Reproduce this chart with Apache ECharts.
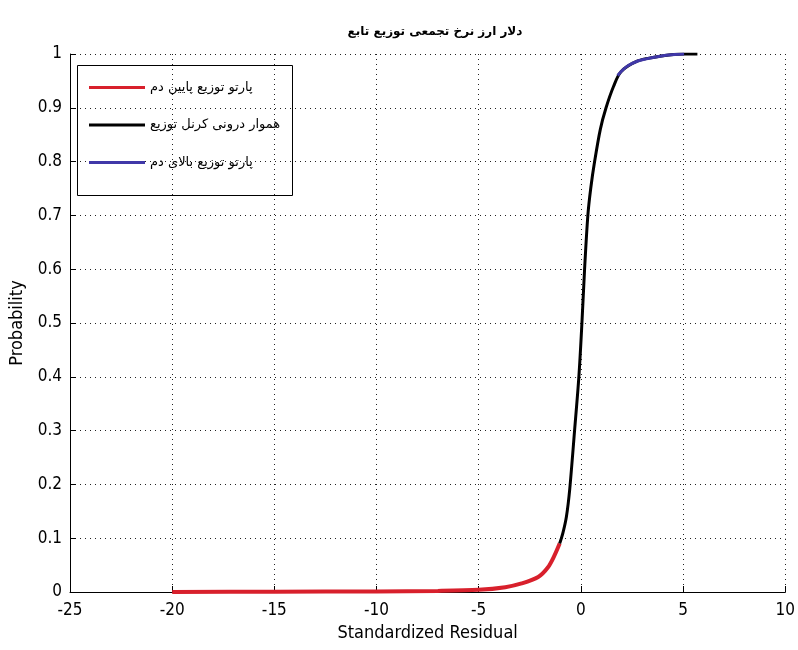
<!DOCTYPE html>
<html>
<head>
<meta charset="utf-8">
<script src="https://cdn.jsdelivr.net/npm/echarts@6/dist/echarts.min.js"></script>
<style>
  html, body { margin: 0; padding: 0; background: #fff; }
  #chart { width: 798px; height: 650px; }
</style>
</head>
<body>
<div id="chart"></div>
<script>
// values
var titleText = 'تابع توزیع تجمعی نرخ ارز دلار';
var seriesNames = ['دم پایین توزیع پارتو', 'توزیع کرنل درونی هموار', 'دم بالای توزیع پارتو'];

// lower tail (pareto)
var lowerX = [-20, -15, -10, -7, -5, -3.7, -2.9, -2.09, -1.61, -1.28, -1.04];
var lowerP = [0, 0.0005, 0.001, 0.002, 0.004, 0.009, 0.016, 0.028, 0.046, 0.069, 0.09];

// smoothed kernel (interior)
var kernelX = [-1.04, -0.88, -0.71, -0.55, -0.31, -0.1, 0.05, 0.18, 0.34, 0.48, 0.67, 0.95, 1.23, 1.6, 1.96, 2.78, 3.59, 4.3, 5.05, 5.7];
var kernelP = [0.09, 0.11, 0.14, 0.19, 0.30, 0.40, 0.50, 0.60, 0.70, 0.75, 0.80, 0.86, 0.90, 0.94, 0.967, 0.987, 0.994, 0.998, 1.0, 1.0];

// upper tail (pareto)
var upperX = [1.8, 1.96, 2.3, 2.78, 3.2, 3.59, 4.3, 5.05];
var upperP = [0.96, 0.967, 0.978, 0.987, 0.991, 0.994, 0.998, 1.0];

function pairs(xs, ys) {
  var out = [];
  for (var i = 0; i < xs.length; i++) out.push([xs[i], ys[i]]);
  return out;
}

// the original figure lays the words out left to right; an LRM after each word does that
function ltrWords(s) {
  return s.split(' ').join('\u200E ');
}

var latinFont = "'Liberation Sans Narrow', 'DejaVu Sans Condensed', 'Liberation Sans', sans-serif";
var farsiFont = "'DejaVu Sans', 'Noto Sans', sans-serif";

var chart = echarts.init(document.getElementById('chart'));
chart.setOption({
  backgroundColor: '#fff',
  animation: false,
  title: {
    text: ltrWords(titleText),
    left: 430,
    textAlign: 'center',
    top: 21,
    textStyle: { fontFamily: farsiFont, fontSize: 12, fontWeight: 'bold', color: '#000' }
  },
  legend: {
    orient: 'vertical',
    left: 89,
    top: 81,
    itemWidth: 56,
    itemHeight: 3,
    itemGap: 24.5,
    icon: 'rect',
    padding: 0,
    data: seriesNames,
    formatter: function (name) { return ltrWords(name); },
    textStyle: { fontFamily: farsiFont, fontSize: 13, color: '#000', padding: [0, 0, 0, 0] }
  },
  graphic: [{
    type: 'rect',
    shape: { x: 77.5, y: 65.5, width: 215, height: 130 },
    style: { fill: 'none', stroke: '#000', lineWidth: 1 },
    z: 10
  }],
  grid: { left: 70, right: 9, top: 54, bottom: 58 },
  xAxis: {
    type: 'value',
    min: -25,
    max: 10,
    interval: 5,
    name: 'Standardized Residual',
    nameLocation: 'middle',
    nameGap: 32,
    nameTextStyle: { fontFamily: latinFont, fontSize: 18, color: '#000' },
    axisLine: { onZero: false, lineStyle: { color: '#000', width: 1 } },
    axisTick: { inside: true, length: 6, lineStyle: { color: '#000' } },
    axisLabel: { fontFamily: latinFont, fontSize: 17, color: '#000', margin: 10 },
    splitLine: { show: true, lineStyle: { color: '#222', type: [1, 4], width: 1 } }
  },
  yAxis: {
    type: 'value',
    min: 0,
    max: 1,
    interval: 0.1,
    name: 'Probability',
    nameLocation: 'middle',
    nameGap: 44,
    nameTextStyle: { fontFamily: latinFont, fontSize: 18, color: '#000' },
    axisLine: { show: true, onZero: false, lineStyle: { color: '#000', width: 1 } },
    axisTick: { show: true, inside: true, length: 6, lineStyle: { color: '#000' } },
    axisLabel: { fontFamily: latinFont, fontSize: 17, color: '#000', margin: 8 },
    splitLine: { show: true, lineStyle: { color: '#222', type: [1, 4], width: 1 } }
  },
  series: [{
    name: seriesNames[0],
    type: 'line',
    data: pairs(lowerX, lowerP),
    showSymbol: false,
    smooth: 0.3,
    color: '#d8202c',
    lineStyle: { width: 4, color: '#d8202c' },
    z: 2
  }, {
    name: seriesNames[1],
    type: 'line',
    data: pairs(kernelX, kernelP),
    showSymbol: false,
    smooth: 0.3,
    color: '#000',
    lineStyle: { width: 3, color: '#000' },
    z: 3
  }, {
    name: seriesNames[2],
    type: 'line',
    data: pairs(upperX, upperP),
    showSymbol: false,
    smooth: 0.3,
    color: '#4038a8',
    lineStyle: { width: 3, color: '#4038a8' },
    z: 4
  }]
});
</script>
</body>
</html>
